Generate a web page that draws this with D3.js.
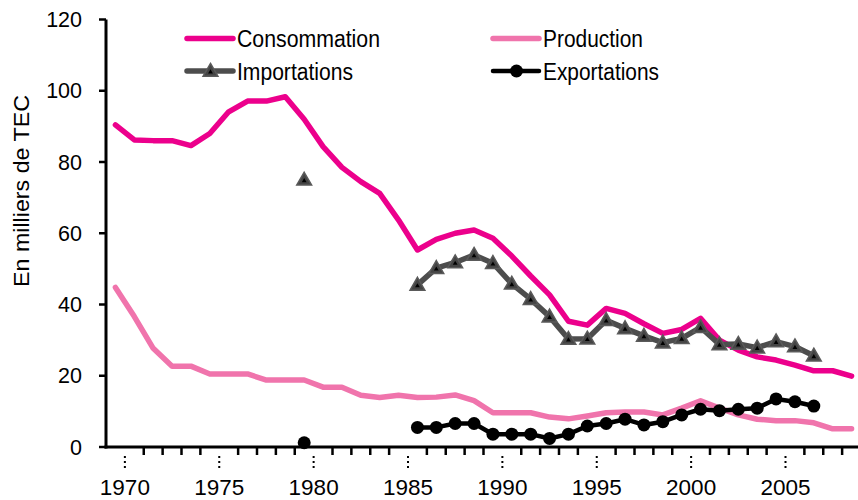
<!DOCTYPE html>
<html>
<head>
<meta charset="utf-8">
<script src="https://cdn.jsdelivr.net/npm/d3@7"></script>
<style>
  body { margin: 0; background: #fff; }
  text { font-family: "Liberation Sans", Arial, sans-serif; fill: #000; }
</style>
</head>
<body>
<div id="viz"><svg width="858" height="500"></svg></div>
<script>
// annees 1969 - 2008
const years = d3.range(1969, 2009)
const yTicks = [0, 20, 40, 60, 80, 100, 120]
const xLabels = [1970, 1975, 1980, 1985, 1990, 1995, 2000, 2005]

const consommation = [90.4, 86.2, 86, 86, 84.6, 88, 94.1, 97.1, 97.1, 98.3,
    92, 84.3, 78.5, 74.5, 71.2, 63.7, 55.3, 58.3, 60, 60.9,
    58.6, 53.6, 48, 42.7, 35.3, 34.2, 38.9, 37.5, 34.6, 31.9,
    33, 36.1, 30, 27.2, 25.3, 24.4, 23, 21.4, 21.4, 19.9]
const production = [44.8, 36.6, 27.7, 22.7, 22.7, 20.5, 20.5, 20.5, 18.8, 18.8,
    18.8, 16.8, 16.8, 14.5, 13.9, 14.5, 13.9, 14, 14.6, 13,
    9.6, 9.6, 9.6, 8.4, 7.9, 8.7, 9.6, 9.8, 9.8, 9,
    10.9, 13, 10.9, 9, 7.8, 7.4, 7.4, 6.8, 5.1, 5.1]
const importations = [null, null, null, null, null, null, null, null, null, null,
    75, null, null, null, null, null, 45.5, 50.2, 51.8, 53.9,
    51.6, 45.8, 41.5, 36.6, 30.3, 30.4, 35.6, 33.3, 31.2, 29.3,
    30.5, 33.6, 28.8, 28.9, 27.9, 29.6, 28.2, 25.6, null, null]
const exportations = [null, null, null, null, null, null, null, null, null, null,
    1.2, null, null, null, null, null, 5.5, 5.5, 6.6, 6.6,
    3.6, 3.6, 3.6, 2.4, 3.6, 5.9, 6.6, 7.8, 6.2, 7.1,
    9, 10.6, 10.2, 10.6, 10.9, 13.5, 12.7, 11.5, null, null]

const series = [
    {name: "Consommation", values: consommation, color: "#ec008c", width: 5.5, marker: null},
    {name: "Production", values: production, color: "#f074ac", width: 5.5, marker: null},
    {name: "Importations", values: importations, color: "#4d4d4d", width: 5.5, marker: "tri"},
    {name: "Exportations", values: exportations, color: "#000", width: 4.5, marker: "dot"}
]

const svg = d3.select("#viz").select("svg")

// axe x : une bande par annee, point au milieu de l'annee
const x = d3.scaleLinear().domain([1969, 2009]).range([106, 861])
const y = d3.scaleLinear().domain([0, 120]).range([447, 19.5])

// axe y
const yAxis = svg.append("g")
yAxis.append("line")
    .attr("x1", 106).attr("x2", 106)
    .attr("y1", y(120)).attr("y2", y(0) + 1.5)
    .attr("stroke", "#000").attr("stroke-width", 3)
yAxis.selectAll("line.tick")
    .data(yTicks)
    .enter()
    .append("line")
    .attr("class", "tick")
    .attr("x1", 99).attr("x2", 106)
    .attr("y1", d => y(d)).attr("y2", d => y(d))
    .attr("stroke", "#000").attr("stroke-width", 2.5)
yAxis.selectAll("text")
    .data(yTicks)
    .enter()
    .append("text")
    .attr("x", 82)
    .attr("y", d => y(d))
    .attr("dy", "0.36em")
    .attr("text-anchor", "end")
    .style("font-size", "21.5px")
    .text(d => d)

svg.append("text")
    .attr("transform", "translate(28.5, 191) rotate(-90)")
    .attr("text-anchor", "middle")
    .attr("textLength", 192)
    .attr("lengthAdjust", "spacingAndGlyphs")
    .style("font-size", "22px")
    .text("En milliers de TEC")

// axe x
const xAxis = svg.append("g")
xAxis.append("line")
    .attr("x1", 104.5).attr("x2", 858)
    .attr("y1", y(0)).attr("y2", y(0))
    .attr("stroke", "#000").attr("stroke-width", 3)
xAxis.selectAll("line.minor")
    .data(d3.range(1970, 2010).filter(d => !xLabels.includes(d)))
    .enter()
    .append("line")
    .attr("class", "minor")
    .attr("x1", d => x(d)).attr("x2", d => x(d))
    .attr("y1", y(0)).attr("y2", y(0) + 8)
    .attr("stroke", "#000").attr("stroke-width", 2.5)
xAxis.selectAll("line.major")
    .data(xLabels)
    .enter()
    .append("line")
    .attr("class", "major")
    .attr("x1", d => x(d)).attr("x2", d => x(d))
    .attr("y1", y(0) + 9).attr("y2", y(0) + 23)
    .attr("stroke", "#000").attr("stroke-width", 2)
    .attr("stroke-dasharray", "2,3")
xAxis.selectAll("text")
    .data(xLabels)
    .enter()
    .append("text")
    .attr("x", d => x(d))
    .attr("y", 495)
    .attr("text-anchor", "middle")
    .style("font-size", "22.5px")
    .text(d => d)

// courbes
const line = d3.line()
    .defined(d => d.v != null)
    .x(d => x(d.year + 0.5))
    .y(d => y(d.v))

const tri = d3.symbol().type(d3.symbolTriangle).size(95)
const triIn = d3.symbol().type(d3.symbolTriangle).size(10)

function drawMarker(g, type, cx, cy) {
    if (type == "tri") {
        g.append("path")
            .attr("d", tri)
            .attr("transform", "translate(" + cx + ", " + (cy + 1) + ")")
            .attr("fill", "#444").attr("stroke", "#5a5a5a").attr("stroke-width", 1.5)
        g.append("path")
            .attr("d", triIn)
            .attr("transform", "translate(" + cx + ", " + (cy + 1) + ")")
            .attr("fill", "#000")
    } else if (type == "dot") {
        g.append("circle")
            .attr("cx", cx).attr("cy", cy).attr("r", 6.5)
            .attr("fill", "#000")
    }
}

series.forEach(s => {
    const pts = years.map((yr, i) => ({year: yr, v: s.values[i]}))
    const g = svg.append("g").attr("class", "serie")
    g.append("path")
        .datum(pts)
        .attr("d", line)
        .attr("fill", "none")
        .attr("stroke", s.color)
        .attr("stroke-width", s.width)
        .attr("stroke-linejoin", "round")
        .attr("stroke-linecap", "round")
    pts.filter(d => d.v != null)
        .forEach(d => drawMarker(g, s.marker, x(d.year + 0.5), y(d.v)))
})

// legende
const legendPos = [
    {x: 187, y: 38.5, tl: 143},
    {x: 493, y: 38.5, tl: 100},
    {x: 187, y: 71, tl: 116},
    {x: 493, y: 71, tl: 116}
]
series.forEach((s, i) => {
    const p = legendPos[i]
    const g = svg.append("g").attr("class", "legend")
    g.append("line")
        .attr("x1", p.x).attr("x2", p.x + 46)
        .attr("y1", p.y).attr("y2", p.y)
        .attr("stroke", s.color)
        .attr("stroke-width", s.width)
        .attr("stroke-linecap", "round")
    drawMarker(g, s.marker, p.x + 23.5, p.y)
    g.append("text")
        .attr("x", p.x + 50)
        .attr("y", p.y + 8.5)
        .attr("textLength", p.tl)
        .attr("lengthAdjust", "spacingAndGlyphs")
        .style("font-size", "23.5px")
        .text(s.name)
})
</script>
</body>
</html>
